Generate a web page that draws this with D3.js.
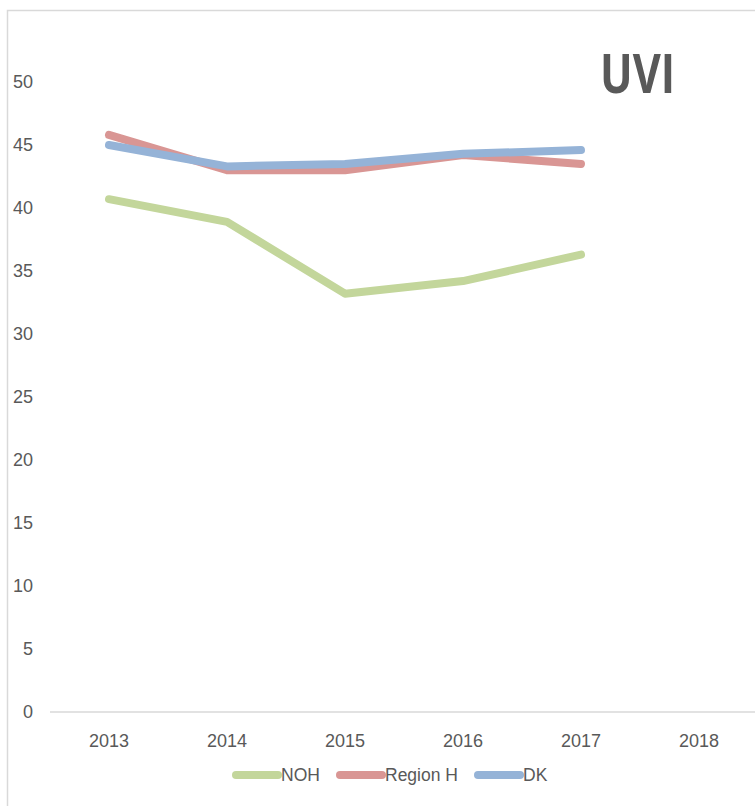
<!DOCTYPE html>
<html>
<head>
<meta charset="utf-8">
<script src="https://cdn.jsdelivr.net/npm/d3@7"></script>
<style>
	html, body { margin: 0; padding: 0; background: #fff; }
</style>
</head>
<body>
<div class="line-chart"></div>
<script>
var years = ['2013', '2014', '2015', '2016', '2017', '2018'];
var yTicks = [0, 5, 10, 15, 20, 25, 30, 35, 40, 45, 50];
var seriesNames = ['NOH', 'Region H', 'DK'];
var noh = [40.7, 38.9, 33.2, 34.2, 36.3];
var regionH = [45.8, 43.0, 43.0, 44.2, 43.5];
var dk = [45.0, 43.3, 43.5, 44.3, 44.6];

var textColor = '#595959',
	borderColor = '#d9d9d9',
	green = '#c3d69b',
	red = '#d99694',
	blue = '#95b3d7';
var fontFamily = '"Liberation Sans", Arial, sans-serif';

var width = 755, height = 806;
var svg = d3.select('.line-chart').append('svg')
	.attr('width', width)
	.attr('height', height)
	.attr('font-family', fontFamily)
	.attr('fill', textColor);

// Chart frame (cut off at the right and bottom).
svg.append('path')
	.attr('d', 'M7.5,' + (height + 5) + 'V10.5H' + (width + 5))
	.attr('fill', 'none')
	.attr('stroke', borderColor)
	.attr('stroke-width', 1.5);

var x = d3.scaleBand().domain(years).range([50, 758]);
var y = d3.scaleLinear().domain([0, 50]).range([712, 82]);
function xPos(d) {
	return x(d) + x.bandwidth() / 2;
}

// Baseline at zero.
svg.append('line')
	.attr('x1', x.range()[0])
	.attr('x2', width)
	.attr('y1', y(0))
	.attr('y2', y(0))
	.attr('stroke', borderColor)
	.attr('stroke-width', 1.5);

// Axes without lines or ticks.
var xAxis = svg.append('g')
	.attr('transform', 'translate(0,' + 741 + ')')
	.call(d3.axisBottom(x).tickSize(0).tickPadding(0));
xAxis.select('.domain').remove();
xAxis.selectAll('text')
	.attr('dy', '0.35em')
	.attr('font-family', fontFamily)
	.attr('font-size', '18px')
	.attr('fill', textColor);

var yAxis = svg.append('g')
	.attr('transform', 'translate(33,0)')
	.call(d3.axisLeft(y).tickValues(yTicks).tickSize(0).tickPadding(0));
yAxis.select('.domain').remove();
yAxis.selectAll('text')
	.attr('font-family', fontFamily)
	.attr('font-size', '18px')
	.attr('fill', textColor);

// The three series.
var series = [
	{name: seriesNames[0], values: noh, color: green},
	{name: seriesNames[1], values: regionH, color: red},
	{name: seriesNames[2], values: dk, color: blue}
];
var line = d3.line()
	.x(function(d, i) { return xPos(years[i]); })
	.y(function(d) { return y(d); });
series.forEach(function(s) {
	svg.append('path')
		.attr('d', line(s.values))
		.attr('fill', 'none')
		.attr('stroke', s.color)
		.attr('stroke-width', 8)
		.attr('stroke-linecap', 'round')
		.attr('stroke-linejoin', 'round');
});

// Legend.
var legendX = [236, 340, 478];
series.forEach(function(s, i) {
	var g = svg.append('g')
		.attr('transform', 'translate(' + legendX[i] + ',775)');
	g.append('line')
		.attr('x1', 0)
		.attr('x2', 42)
		.attr('stroke', s.color)
		.attr('stroke-width', 8)
		.attr('stroke-linecap', 'round');
	g.append('text')
		.attr('x', 45)
		.attr('dy', '0.35em')
		.attr('font-size', '17.5px')
		.text(s.name);
});

// Title.
svg.append('text')
	.attr('x', 600)
	.attr('y', 93)
	.attr('font-size', '54px')
	.attr('font-weight', 'bold')
	.attr('font-family', '"Open Sans", "Liberation Sans", sans-serif')
	.attr('textLength', 75)
	.attr('lengthAdjust', 'spacingAndGlyphs')
	.text('UVI');
</script>
</body>
</html>
